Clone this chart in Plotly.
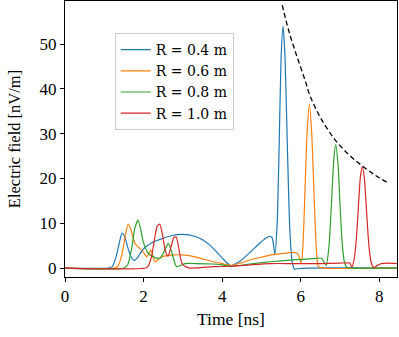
import plotly.graph_objects as go

# R = 0.4 m
t_04 = [0, 1.1, 1.2, 1.3, 1.38, 1.45, 1.52, 1.6, 1.7, 1.77, 1.85, 2.0, 2.2, 2.42, 2.7, 3.0, 3.3, 3.5, 3.7, 3.9, 4.05, 4.22,
        4.35, 4.45, 4.71, 4.96, 5.1, 5.22, 5.27, 5.31, 5.34, 5.40, 5.45, 5.50, 5.55, 5.60, 5.66, 5.72, 5.78, 5.84, 5.95, 6.2, 8.45]
e_04 = [0, 0, 0.3, 2.5, 5.5, 7.8, 7.0, 4.5, 2.2, 1.7, 2.4, 4.3, 5.6, 6.4, 7.2, 7.5, 7.1, 6.3, 5.0, 3.2, 1.8, 0.5,
        1.0, 1.5, 3.5, 5.6, 6.6, 7.1, 6.8, 5.0, 3.0, 10, 27, 47, 54, 47, 27, 9, 1.5, -0.2, -0.1, 0, 0]

# R = 0.6 m
t_06 = [0, 1.25, 1.35, 1.45, 1.53, 1.61, 1.68, 1.78, 1.9, 1.99, 2.08, 2.19, 2.29, 2.46, 2.71, 3.05, 3.31, 3.77, 4.0, 4.24,
        4.5, 4.7, 5.0, 5.22, 5.5, 5.8, 5.92, 5.97, 6.01, 6.05, 6.1, 6.16, 6.22, 6.28, 6.34, 6.40, 6.45, 6.55, 8.45]
e_06 = [0, 0, 0.5, 3, 7, 9.8, 8.5, 5.5, 4.4, 3.6, 2.5, 4.0, 1.4, 2.5, 2.9, 2.9, 2.5, 1.4, 1.0, 0.6,
        1.2, 1.8, 2.4, 2.9, 3.2, 3.5, 3.2, 2.2, 1.2, 4, 15, 30, 36.6, 30, 16, 4, 0.3, 0, 0]

# R = 0.8 m
t_08 = [0, 1.5, 1.6, 1.7, 1.78, 1.86, 1.93, 1.99, 2.12, 2.25, 2.42, 2.53, 2.63, 2.72, 2.84, 3.05, 3.31, 3.77, 4.0, 4.24,
        4.7, 5.22, 5.8, 6.3, 6.53, 6.60, 6.65, 6.72, 6.78, 6.84, 6.89, 6.95, 7.0, 7.06, 7.12, 7.18, 7.3, 8.45]
e_08 = [0, 0, 0.8, 4.5, 9, 10.7, 8.5, 5.9, 3.3, 2.5, 2.2, 3.8, 5.5, 3.5, 0.3, 1.0, 1.0, 0.9, 0.7, 0.4,
        0.9, 1.4, 1.8, 2.1, 2.2, 1.2, 0.6, 5, 14, 24, 27.5, 23, 14, 5, 1, 0.1, 0, 0]

# R = 1.0 m
t_10 = [0, 2.05, 2.12, 2.2, 2.28, 2.35, 2.41, 2.48, 2.55, 2.62, 2.7, 2.77, 2.83, 2.9, 2.97, 3.05, 3.18, 3.77, 4.24,
        4.7, 5.22, 5.8, 6.5, 7.0, 7.25, 7.30, 7.36, 7.42, 7.47, 7.52, 7.57, 7.62, 7.68, 7.74, 7.80, 7.86, 7.95, 8.05, 8.2, 8.45]
e_10 = [0, 0, 0.5, 2.5, 6.5, 9.4, 9.8, 7.5, 4.0, 2.6, 4.8, 6.8, 6.9, 4.2, 1.2, 0.4, 0.0, 0.3, 0.4,
        0.7, 1.0, 1.0, 1.0, 1.1, 1.1, 0.2, 2, 7, 14, 20.5, 22.6, 20, 12, 4.5, 1, 0.1, 0.6, 1.0, 1.1, 1.0]

# Peak envelope (dashed)
t_env = [5.53, 5.7, 5.9, 6.1, 6.23, 6.5, 6.85, 7.2, 7.55, 7.9, 8.22]
e_env = [58.7, 52.8, 47.3, 42.2, 38.6, 33.6, 28.9, 25.5, 22.9, 20.7, 19.0]

series = [
    ("R = 0.4 m", t_04, e_04, "#1f77b4"),
    ("R = 0.6 m", t_06, e_06, "#ff7f0e"),
    ("R = 0.8 m", t_08, e_08, "#2ca02c"),
    ("R = 1.0 m", t_10, e_10, "#d62728"),
]

fig = go.Figure()
for name, t, e, c in series:
    fig.add_trace(go.Scatter(x=t, y=e, mode="lines", name=name,
                             line=dict(color=c, width=1.2, shape="spline", smoothing=0.6)))
fig.add_trace(go.Scatter(x=t_env, y=e_env, mode="lines", showlegend=False,
                         line=dict(color="black", width=1.3, dash="5px,3px", shape="spline")))

font_family = "Liberation Serif"
axis_common = dict(showline=True, mirror=True, linecolor="black", linewidth=1,
                   ticks="outside", ticklen=4, tickcolor="black", tickwidth=1,
                   showgrid=False, zeroline=False, automargin=False,
                   tickfont=dict(family=font_family, size=17, color="black"))
fig.update_layout(
    width=399, height=337,
    margin=dict(l=65, r=2, t=1, b=60),
    plot_bgcolor="white", paper_bgcolor="white",
    font=dict(family=font_family, size=16, color="black"),
    xaxis=dict(range=[0, 8.45], tickvals=[0, 2, 4, 6, 8],
               title=dict(text="Time [ns]", standoff=7,
                          font=dict(family=font_family, size=17.5, color="black")),
               **axis_common),
    yaxis=dict(range=[-2, 59.6], tickvals=[0, 10, 20, 30, 40, 50],
               title=dict(text="Electric field [nV/m]", standoff=14,
                          font=dict(family=font_family, size=16.5, color="black")),
               **axis_common),
    legend=dict(x=0.15, y=0.884, xanchor="left", yanchor="top",
                bgcolor="rgba(255,255,255,0.8)", bordercolor="#cccccc", borderwidth=1,
                font=dict(family="DejaVu Serif", size=14), tracegroupgap=0, itemwidth=30),
)
fig.write_html("out.html", config={"displayModeBar": False},
               post_script="document.body.style.margin='0';")
